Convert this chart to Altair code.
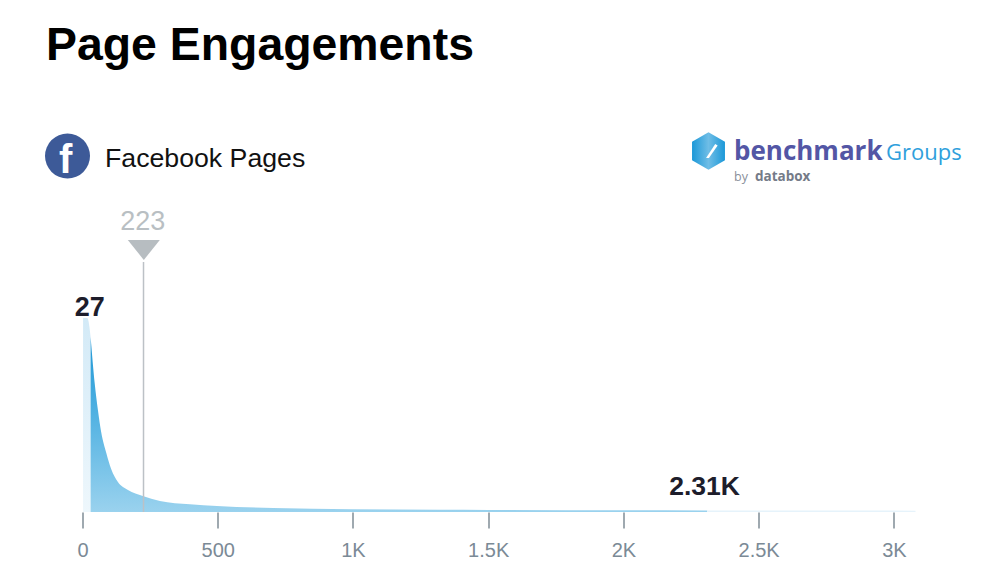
import altair as alt
import pandas as pd

# values
engagements = [2, 18, 30, 45, 57, 69, 88, 106, 131, 168, 223, 286, 397, 497, 705, 996, 1321, 1500, 2000, 2310, 2600, 2900, 3080]
density = [194, 194, 175, 129, 102, 80, 59, 43, 30, 22, 16, 11, 7.7, 6, 4, 2.8, 2.2, 2, 1.7, 1.6, 1.5, 1.4, 1.3]
ticks = [0, 500, 1000, 1500, 2000, 2500, 3000]
median_value = 223
low_value = 27
low_edge = 30
high_value = 2310
MARKER_Y = 262
X_MAX = 3080
Y_MAX = 322
LEFT, TOP = 82.5, 190
BASE = 512

df = pd.DataFrame({"v": engagements, "d": density})
x_scale = alt.Scale(domain=[0, X_MAX], nice=False, zero=False)
y_scale = alt.Scale(domain=[0, Y_MAX], nice=False)
x_axis = alt.Axis(
    values=ticks, domain=False, grid=False, tickSize=16, tickWidth=1.5,
    tickColor="#7f8c96", labelColor="#7b8a96", labelFontSize=20,
    labelFont="Liberation Sans", labelPadding=12, title=None, labelFlush=False,
    labelExpr="datum.value >= 1000 ? (datum.value / 1000) + 'K' : datum.value",
)
X = alt.X("v:Q", scale=x_scale, axis=x_axis)
Y = alt.Y("d:Q", scale=y_scale, axis=None)


def grad(stops):
    return alt.Gradient(
        gradient="linear", x1=0, y1=0, x2=0, y2=1,
        stops=[alt.GradientStop(offset=o, color=c) for o, c in stops],
    )


def seg(sub, fill):
    return alt.Chart(sub).mark_area(interpolate="monotone", fill=fill).encode(x=X, y=Y)


low = seg(df[df.v <= low_edge], grad([(0, "#d3eaf7"), (1, "#eef7fc")]))
mid = seg(df[(df.v >= low_edge) & (df.v <= high_value)],
          grad([(0, "#1f97d5"), (0.45, "#52b2e2"), (1, "#9ad2ee")]))
high = seg(df[df.v >= high_value], "#e6f3fb")

rule_df = pd.DataFrame({"v": [median_value], "d": [0], "d2": [MARKER_Y - 12]})
rule = alt.Chart(rule_df).mark_rule(color="#bcc1c6", strokeWidth=1.5, xOffset=0.7).encode(
    x=X, y=Y, y2="d2:Q",
)
tri = alt.Chart(pd.DataFrame({"v": [median_value], "d": [MARKER_Y]})).mark_point(
    shape="M-1,-0.62 L1,-0.62 L0,0.62 Z", size=1024, filled=True, color="#b7bdc1", opacity=1, xOffset=1
).encode(x=X, y=Y)


def val_label(text, v, d, size, color, weight="bold"):
    return alt.Chart(pd.DataFrame({"v": [v], "d": [d], "t": [text]})).mark_text(
        font="Liberation Sans", fontSize=size, fontWeight=weight, color=color, baseline="middle", align="center"
    ).encode(x=X, y=Y, text="t:N")


def label(text, px, py, size, color, weight="normal", font="Liberation Sans", align="left"):
    return alt.Chart(pd.DataFrame({"t": [text]})).mark_text(
        font=font, fontSize=size, fontWeight=weight, color=color, align=align, baseline="alphabetic"
    ).encode(x=alt.value(px - LEFT), y=alt.value(py - TOP), text="t:N")


def symbol(shape, px, py, size, fill):
    return alt.Chart(pd.DataFrame({"a": [1]})).mark_point(
        shape=shape, size=size, filled=True, fill=fill, opacity=1, strokeWidth=0
    ).encode(x=alt.value(px - LEFT), y=alt.value(py - TOP))


hexagon = "M0,-1 L0.88,-0.5 L0.88,0.5 L0,1 L-0.88,0.5 L-0.88,-0.5 Z"
slash = "M0.6,-1 L0.95,-0.8 L-0.3,1 L-0.7,1 Z"

layers = [
    low, mid, high, rule, tri,
    val_label("223", median_value, BASE - 222, 27, "#b9bfc3", "normal"),
    val_label("27", low_value, BASE - 308, 27, "#1d1d2b"),
    val_label("2.31K", 2300, BASE - 486.5, 26.5, "#1d1d2b"),
    label("Page Engagements", 46, 60, 46.4, "#000000", "bold"),
    symbol("circle", 67.5, 156, 2025, "#3d5a98"),
    label("f", 59, 173, 40, "#ffffff", "bold"),
    label("Facebook Pages", 105, 167, 26.7, "#111111"),
    symbol(hexagon, 708.5, 151, 1400,
           alt.Gradient(gradient="linear", x1=0, y1=0, x2=1, y2=0,
                        stops=[alt.GradientStop(offset=0, color="#1b98d8"),
                               alt.GradientStop(offset=0.5, color="#6fbde6"),
                               alt.GradientStop(offset=1, color="#1b98d8")])),
    symbol(slash, 711, 151, 196, "#ffffff"),
    label("benchmark", 734, 160, 26, "#5356a5", "bold", "Open Sans"),
    label("Groups", 886, 160, 22, "#2f9fdc", "normal", "Open Sans"),
    label("by", 734, 181, 12.5, "#8a8f9a", "normal", "Open Sans"),
    label("databox", 755, 181, 13.5, "#757b88", "bold", "Open Sans"),
]

chart = alt.layer(*layers).resolve_scale(x="shared", y="shared").properties(
    width=int(X_MAX * 811.7 / 3000), height=322, background="#ffffff",
    padding={"left": LEFT - 8, "top": TOP - 8, "right": 70, "bottom": 555 - (TOP - 8) - 322},
    autosize=alt.AutoSizeParams(type="none"),
).configure_view(stroke=None)

chart.save("out.html", embed_options={"renderer": "svg", "actions": False})
